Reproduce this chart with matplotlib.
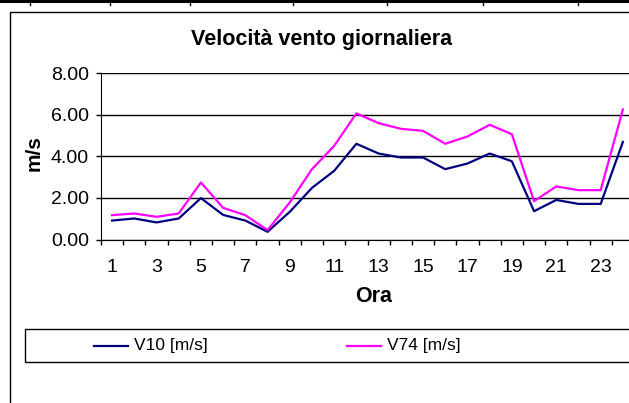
import numpy as np
import matplotlib.pyplot as plt
from matplotlib.patches import Rectangle
from matplotlib.lines import Line2D

plt.rcParams['font.family'] = ['Liberation Sans', 'DejaVu Sans']

# hourly wind speed (m/s)
ore = list(range(1, 25))
v10 = [0.91, 1.01, 0.82, 1.01, 1.99, 1.18, 0.91, 0.37, 1.33, 2.48, 3.30, 4.60,
       4.13, 3.94, 3.94, 3.38, 3.65, 4.13, 3.76, 1.36, 1.90, 1.71, 1.71, 4.69]
v74 = [1.17, 1.25, 1.09, 1.25, 2.74, 1.52, 1.17, 0.45, 1.78, 3.38, 4.50, 6.06,
       5.59, 5.32, 5.22, 4.60, 4.95, 5.51, 5.06, 1.84, 2.55, 2.37, 2.37, 6.25]
y_ticks = [0, 2, 4, 6, 8]

W, H = 629, 403
fig = plt.figure(figsize=(W / 100, H / 100), dpi=100)

def fx(px):
    return px / W

def fy(py):
    return 1 - py / H

# spreadsheet line at the very top
fig.add_artist(Line2D([0, 1], [fy(1), fy(1)], color='black', lw=2.2))
for sx in [30, 110, 190, 293, 387, 483, 578]:
    fig.add_artist(Line2D([fx(sx), fx(sx)], [fy(0), fy(5)], color='black', lw=1))

# chart frame
fig.add_artist(Rectangle((fx(10), fy(420)), fx(640), fy(12) - fy(420),
                         fill=False, edgecolor='black', lw=1))

ax = fig.add_axes([fx(101), fy(239.5), fx(634 - 101), fy(73) - fy(239.5)])
x = np.arange(len(ore)) + 0.5
ax.plot(x, v10, color='#000080', lw=1.6)
ax.plot(x, v74, color='#FF00FF', lw=1.6)

ax.set_xlim(0, 24)
ax.set_ylim(0, 8)
ax.set_yticks(y_ticks)
ax.set_yticklabels(['%.2f' % v for v in y_ticks], fontsize=14)
ax.set_xticks(np.arange(0, 25))
ax.set_xticklabels([])
ax.set_xticks(x[::2], minor=True)
ax.set_xticklabels([str(o) for o in ore[::2]], minor=True, fontsize=14)
ax.tick_params(axis='x', which='minor', length=0, pad=14)
ax.tick_params(axis='x', which='major', direction='out', length=3.8, width=1)
ax.tick_params(axis='y', direction='out', length=3.8, width=1, pad=5)
ax.grid(axis='y', color='black', lw=1)
ax.spines['top'].set_visible(False)
ax.spines['right'].set_visible(False)
ax.set_axisbelow(True)

fig.text(fx(322), fy(39), 'Velocità vento giornaliera', ha='center', va='center',
         fontsize=15.5, fontweight='bold')
fig.text(fx(34), fy(153), 'm/s', ha='center', va='center', rotation=90,
         fontsize=15, fontweight='bold')
fig.text(fx(374), fy(297), 'Ora', ha='center', va='center',
         fontsize=15.5, fontweight='bold')

# legend
fig.add_artist(Rectangle((fx(25), fy(362)), fx(640), fy(329) - fy(362),
                         fill=False, edgecolor='black', lw=1))
for x0, col, lab in [(94, '#000080', 'V10 [m/s]'), (347, '#FF00FF', 'V74 [m/s]')]:
    fig.add_artist(Line2D([fx(x0), fx(x0 + 34)], [fy(345.5), fy(345.5)], color=col, lw=1.6))
    fig.text(fx(x0 + 40), fy(345.5), lab, ha='left', va='center', fontsize=12.5)

fig.savefig('out.png', dpi=100)
